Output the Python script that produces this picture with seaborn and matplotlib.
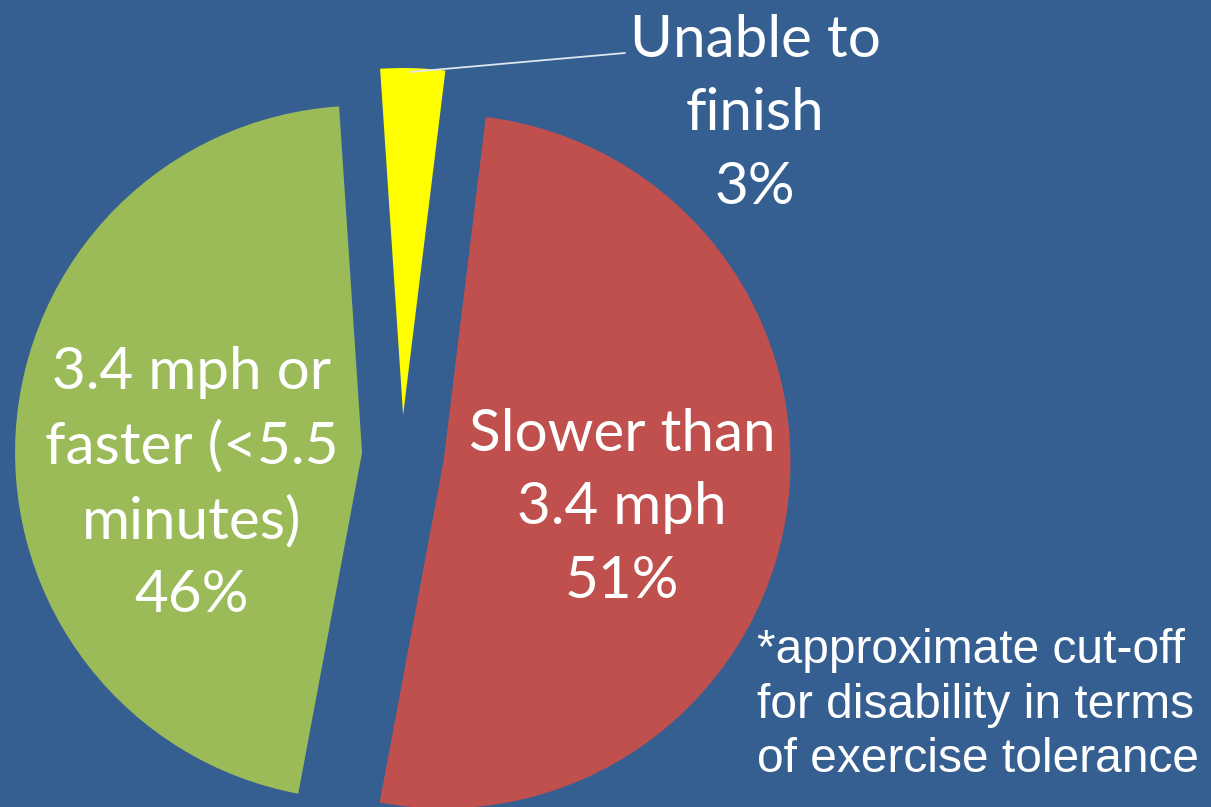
import matplotlib
matplotlib.use("Agg")
import matplotlib.pyplot as plt
import seaborn as sns

# Treadmill walking speed outcomes
categories = ["Unable to\nfinish", "Slower than\n3.4 mph", "3.4 mph or\nfaster (<5.5\nminutes)"]
shares = [3, 51, 46]
colors = ["#FFFF00", "#C0504D", "#9BBB59"]
footnote = "*approximate cut-off\nfor disability in terms\nof exercise tolerance"

BG = "#365F91"
sns.set_theme(style="white", rc={"figure.facecolor": BG, "axes.facecolor": BG})
plt.rcParams["font.family"] = ["Lato", "DejaVu Sans"]

W, H = 1211, 807
fig = plt.figure(figsize=(W / 100, H / 100), dpi=100)
ax = fig.add_axes([0, 0, 1, 1])

wedges, _ = ax.pie(
    shares,
    colors=colors,
    startangle=93.8,
    counterclock=False,
    radius=347,
    center=(402, H - 455),
    explode=[40, 42, 40],
    wedgeprops=dict(linewidth=0),
    frame=True,
)
ax.set_xlim(0, W)
ax.set_ylim(0, H)
ax.set_aspect("equal")
ax.axis("off")

lab = [f"{c}\n{s}%" for c, s in zip(categories, shares)]
txt = dict(color="white", fontsize=42, ha="center", va="center",
           multialignment="center", linespacing=1.48)
ax.text(755, H - 114, lab[0], **txt)
ax.text(622, H - 508, lab[1], **txt)
ax.text(192, H - 484, lab[2], **txt)

# leader line from the small slice to its label
ax.plot([410, 625], [H - 72, H - 53], color="#dfe6f0", lw=1.3, solid_capstyle="round")

ax.text(757, H - 705, footnote, color="white", fontsize=34.5, ha="left", va="center",
        family=["Liberation Sans", "DejaVu Sans"], linespacing=1.26)

fig.savefig("out.png", dpi=100, facecolor=BG)
